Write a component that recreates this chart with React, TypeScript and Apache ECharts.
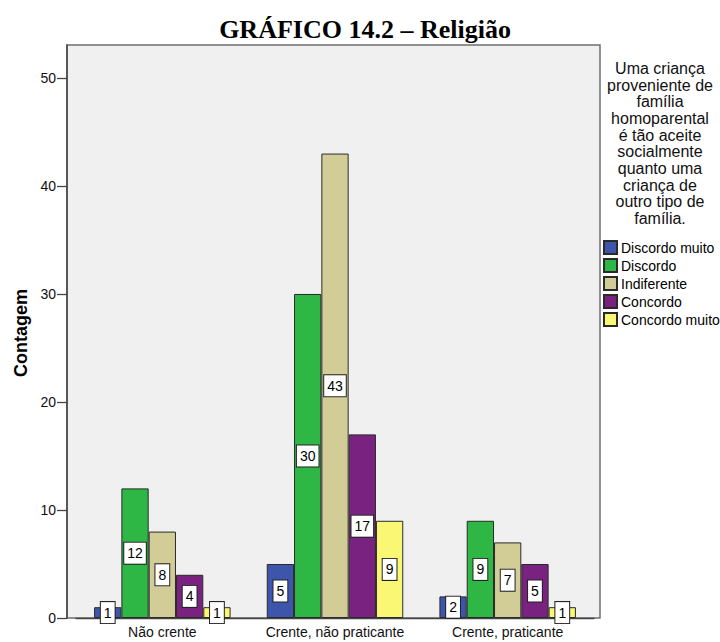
import React, { useEffect, useRef } from "react";
import * as echarts from "echarts";

const categories = ["Não crente", "Crente, não praticante", "Crente, praticante"];
const seriesNames = ["Discordo muito", "Discordo", "Indiferente", "Concordo", "Concordo muito"];
const discordoMuito = [1, 5, 2];
const discordo = [12, 30, 9];
const indiferente = [8, 43, 7];
const concordo = [4, 17, 5];
const concordoMuito = [1, 9, 1];
const seriesColors = ["#3d56ab", "#2fb746", "#d2cd96", "#7a2280", "#faf774"];
const yTicks = [0, 10, 20, 30, 40, 50];
const legendTitle = [
  "Uma criança",
  "proveniente de",
  "família",
  "homoparental",
  "é tão aceite",
  "socialmente",
  "quanto uma",
  "criança de",
  "outro tipo de",
  "família.",
];

export default function App() {
  const ref = useRef<HTMLDivElement>(null);
  useEffect(() => {
    if (!ref.current) return;
    const chart = echarts.init(ref.current, undefined, { renderer: "svg" });
    const values = [discordoMuito, discordo, indiferente, concordo, concordoMuito];
    const font = "'Liberation Sans', Arial, sans-serif";
    chart.setOption({
      animation: false,
      backgroundColor: "#ffffff",
      textStyle: { fontFamily: font },
      grid: { left: 76, width: 518, top: 45, bottom: 24, containLabel: false },
      graphic: [
        {
          type: "rect",
          z: -10,
          shape: { x: 67, y: 45, width: 533, height: 573 },
          style: { fill: "#f0f0f0", stroke: "#6e6e6e", lineWidth: 1.5 },
        },
        {
          type: "text",
          x: 365,
          y: 29,
          style: {
            text: "GRÁFICO 14.2 – Religião",
            font: "bold 26px 'Liberation Serif', 'Times New Roman', serif",
            fill: "#000",
            textAlign: "center",
            textVerticalAlign: "middle",
          },
        },
        {
          type: "text",
          x: 21,
          y: 333,
          rotation: Math.PI / 2,
          style: {
            text: "Contagem",
            font: "bold 18px 'Liberation Sans', Arial, sans-serif",
            fill: "#000",
            textAlign: "center",
            textVerticalAlign: "middle",
          },
        },
        {
          type: "text",
          x: 660,
          y: 60,
          style: {
            text: legendTitle.join("\n"),
            font: "16px 'Liberation Sans', Arial, sans-serif",
            lineHeight: 16.7,
            fill: "#111",
            textAlign: "center",
          },
        },
      ],
      legend: {
        orient: "vertical",
        left: 603,
        top: 240,
        itemWidth: 13,
        itemHeight: 13,
        itemGap: 3,
        icon: "rect",
        padding: 0,
        textStyle: { fontSize: 14, fontFamily: font, color: "#000", lineHeight: 14, padding: [0, 0, 0, -1] },
        data: seriesNames,
      },
      xAxis: {
        type: "category",
        data: categories,
        boundaryGap: true,
        axisLine: { lineStyle: { color: "#444", width: 1.3 } },
        axisTick: { alignWithLabel: true, length: 8, lineStyle: { color: "#444", width: 1.3 } },
        axisLabel: { color: "#111", fontSize: 14, fontFamily: font, margin: 7, interval: 0 },
      },
      yAxis: {
        type: "value",
        min: 0,
        max: 53.05,
        interval: 10,
        offset: 9,
        splitLine: { show: false },
        axisLine: { show: true, lineStyle: { color: "#444", width: 1.5 } },
        axisTick: { show: true, length: 10, lineStyle: { color: "#444", width: 1.3 } },
        axisLabel: {
          color: "#111",
          fontSize: 14,
          fontFamily: font,
          margin: 11,
          showMaxLabel: false,
          formatter: (v: number) => (yTicks.includes(v) ? String(v) : ""),
        },
      },
      series: seriesNames.map((name, i) => ({
        name,
        type: "bar",
        data: values[i],
        barWidth: 27.3,
        barGap: "0%",
        itemStyle: { color: seriesColors[i], borderColor: "#2a2a2a", borderWidth: 1 },
        label: {
          show: true,
          position: "inside",
          color: "#000",
          fontSize: 14,
          fontFamily: font,
          backgroundColor: "#ffffff",
          borderColor: "#222",
          borderWidth: 1,
          padding: [4, 3, 3, 3],
        },
      })),
    });
    return () => chart.dispose();
  }, []);
  return <div ref={ref} style={{ width: 720, height: 642, position: "absolute", left: 0, top: 0 }} />;
}
